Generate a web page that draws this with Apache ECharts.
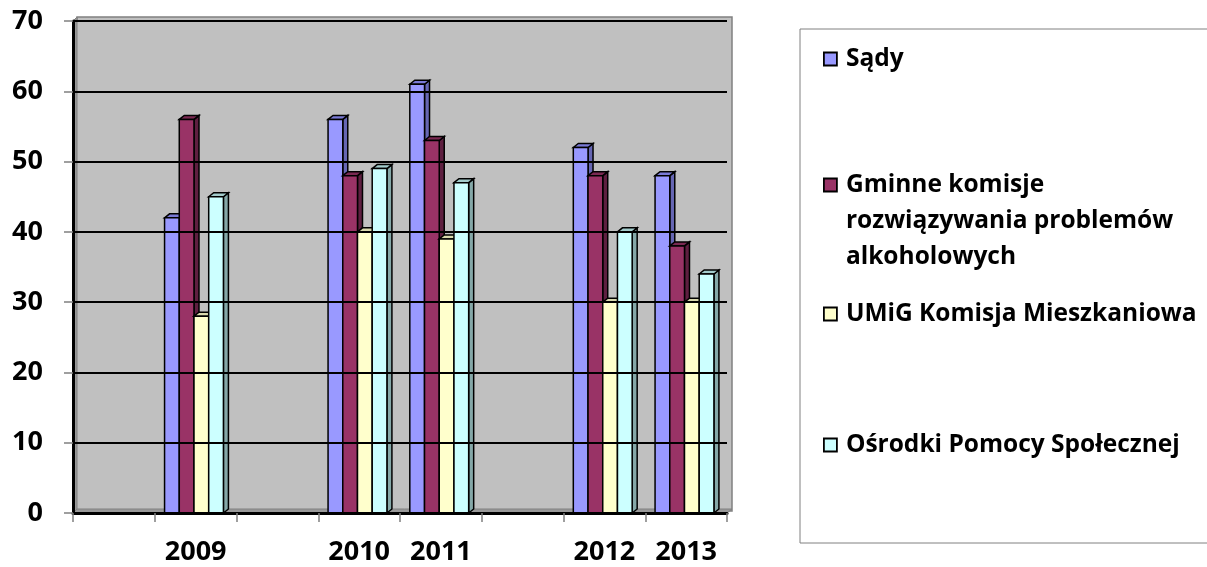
<!DOCTYPE html>
<html>
<head>
<meta charset="utf-8">
<script src="https://cdn.jsdelivr.net/npm/echarts@6/dist/echarts.min.js"></script>
<style>
html,body{margin:0;padding:0;background:#fff;}
#chart{width:1207px;height:567px;}
</style>
</head>
<body>
<div id="chart"></div>
<script>
var categories = ['', '2009', '', '2010', '2011', '', '2012', '2013'];
var seriesNames = ['Sądy', 'Gminne komisje\nrozwiązywania problemów\nalkoholowych', 'UMiG Komisja Mieszkaniowa', 'Ośrodki Pomocy Społecznej'];
var sady     = [null, 42, null, 56, 61, null, 52, 48];
var gminne   = [null, 56, null, 48, 53, null, 48, 38];
var umig     = [null, 28, null, 40, 39, null, 30, 30];
var osrodki  = [null, 45, null, 49, 47, null, 40, 34];
var yTicks = [0, 10, 20, 30, 40, 50, 60, 70];

var seriesValues = [sady, gminne, umig, osrodki];
var fronts = ['#9999FF', '#993366', '#FFFFCC', '#CCFFFF'];
var sides  = ['#6666B3', '#5E1F40', '#B3B38F', '#85A8A8'];
var tops   = ['#7A7AD6', '#7A2952', '#D9D9AD', '#A3CCCC'];

function makeRender(si) {
  return function (params, api) {
    var cat = api.value(0), val = api.value(1);
    var base = api.coord([cat, 0]);
    var top = api.coord([cat, val]);
    var band = api.size([1, 0])[0];
    var w = band * 0.18;
    var x0 = base[0] - band * 0.38 + si * w;
    var d = 5, dy = 4;
    var stroke = {stroke: '#000', lineWidth: 1.5};
    return {
      type: 'group',
      children: [
        {type: 'polygon', shape: {points: [[x0 + w, top[1]], [x0 + w + d, top[1] - dy], [x0 + w + d, base[1] - dy], [x0 + w, base[1]]]},
         style: Object.assign({fill: sides[si]}, stroke)},
        {type: 'polygon', shape: {points: [[x0, top[1]], [x0 + d, top[1] - dy], [x0 + w + d, top[1] - dy], [x0 + w, top[1]]]},
         style: Object.assign({fill: tops[si]}, stroke)},
        {type: 'rect', shape: {x: x0, y: top[1], width: w, height: base[1] - top[1]},
         style: Object.assign({fill: fronts[si]}, stroke)}
      ]
    };
  };
}

var series = seriesValues.map(function (arr, si) {
  var data = [];
  arr.forEach(function (v, i) { if (v !== null) data.push([i, v]); });
  return {
    type: 'custom',
    name: seriesNames[si],
    renderItem: makeRender(si),
    encode: {x: 0, y: 1},
    itemStyle: {color: fronts[si], borderColor: '#000', borderWidth: 1.5},
    data: data,
    z: 3
  };
});

var FONT = "'Open Sans'";
var legendTops = [41, 95, 296, 427];
var legends = seriesNames.map(function (n, si) {
  return {
    left: 823,
    top: legendTops[si],
    orient: 'vertical',
    padding: 0,
    itemWidth: 13,
    itemHeight: 13,
    icon: 'rect',
    selectedMode: false,
    itemStyle: {borderColor: '#000', borderWidth: 1.8},
    formatter: si === 1 ? function (name) { return '\n\n' + name; } : null,
    textStyle: {
      fontFamily: FONT, fontWeight: 'bold', fontSize: 24.5, color: '#000',
      lineHeight: 36,
      padding: [0, 0, 0, 4]
    },
    data: [n]
  };
});

var chart = echarts.init(document.getElementById('chart'));
chart.setOption({
  animation: false,
  backgroundColor: '#fff',
  grid: {left: 73, right: 480, top: 21, bottom: 54, show: true, backgroundColor: '#C0C0C0', borderWidth: 0},
  graphic: [
    {type: 'rect', shape: {x: 800, y: 29, width: 420, height: 514}, style: {fill: 'none', stroke: '#808080', lineWidth: 1}, z: 0},
    {type: 'rect', shape: {x: 77, y: 17, width: 655, height: 494}, style: {fill: '#C0C0C0', stroke: '#808080', lineWidth: 1.5}, z: -1},
    {type: 'polygon', shape: {points: [[73, 21], [77, 17], [77, 510], [73, 513]]}, style: {fill: '#999', stroke: '#808080', lineWidth: 1}, z: 1},
    {type: 'polygon', shape: {points: [[73, 513], [77, 509], [732, 509], [727, 513]]}, style: {fill: '#999', stroke: '#808080', lineWidth: 1}, z: 1}
  ],
  legend: legends,
  xAxis: {
    type: 'category',
    data: categories,
    boundaryGap: true,
    axisLine: {show: true, lineStyle: {color: '#000', width: 3}},
    axisTick: {show: true, length: 9, lineStyle: {color: '#808080', width: 1.5}},
    axisLabel: {color: '#000', fontFamily: FONT, fontWeight: 'bold', fontSize: 27, margin: 26},
    splitLine: {show: false},
    z: 5
  },
  yAxis: {
    type: 'value',
    min: 0, max: 70, interval: 10,
    axisLine: {show: true, lineStyle: {color: '#000', width: 3}},
    axisTick: {show: true, length: 9, lineStyle: {color: '#808080', width: 1.5}},
    axisLabel: {color: '#000', fontFamily: FONT, fontWeight: 'bold', fontSize: 27, margin: 30,
      formatter: function (v) { return yTicks.indexOf(v) >= 0 ? String(v) : ''; }},
    splitLine: {show: true, lineStyle: {color: '#000', width: 2}},
    z: 5
  },
  series: series
});
</script>
</body>
</html>
